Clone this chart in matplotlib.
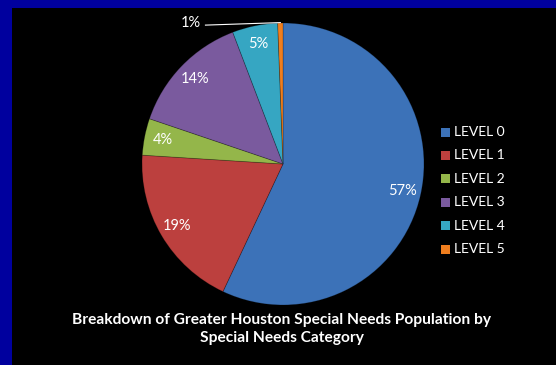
import matplotlib
matplotlib.use("Agg")
import matplotlib.pyplot as plt
import numpy as np
from matplotlib.patches import Rectangle

categories = ["LEVEL 0", "LEVEL 1", "LEVEL 2", "LEVEL 3", "LEVEL 4", "LEVEL 5"]
values = [57.0, 19.0, 4.2, 14.0, 5.2, 0.6]
labels = ["57%", "19%", "4%", "14%", "5%", "1%"]
colors = ["#3C72B8", "#BC403E", "#94B64A", "#7A5A9E", "#36A6C2", "#F07E1E"]
title = "Breakdown of Greater Houston Special Needs Population by\nSpecial Needs Category"

W, H = 556, 365
fig = plt.figure(figsize=(W/100, H/100), dpi=100, facecolor="#00009E")
plt.rcParams['font.family'] = ['Lato', 'DejaVu Sans']

# black panel
bg = fig.add_axes([0, 0, 1, 1])
bg.set_xlim(0, W); bg.set_ylim(H, 0); bg.axis("off")
bg.add_patch(Rectangle((12, 8), W, H, facecolor="black", edgecolor="none"))

cx, cy, r = 283, 164, 141
ax = fig.add_axes([(cx-r)/W, (H-cy-r)/H, 2*r/W, 2*r/H])
wedges, _ = ax.pie(values, colors=colors, startangle=90, counterclock=False,
                   radius=1.0, wedgeprops=dict(edgecolor=(0, 0, 0, 0.25), linewidth=0.6))
ax.set_xlim(-1, 1); ax.set_ylim(-1, 1); ax.axis("off")

for w, lab, v in zip(wedges, labels, values):
    mid = np.deg2rad((w.theta1 + w.theta2) / 2)
    if v < 2:
        x0, y0 = np.cos(mid), np.sin(mid)
        ax.plot([x0, -0.55], [y0 + 0.003, 0.985], color="white", lw=0.8, clip_on=False)
        ax.text(-0.58, 1.0, lab, color="white", fontsize=10.5, ha="right", va="center")
    else:
        d = 0.87
        ax.text(d*np.cos(mid), d*np.sin(mid), lab, color="white", fontsize=10.5,
                ha="center", va="center")

# legend
lx, ly0, dy = 441, 132, 23.4
for i, (c, n) in enumerate(zip(colors, categories)):
    y = ly0 + i*dy
    bg.add_patch(Rectangle((lx, y-4.5), 9, 9, facecolor=c, edgecolor="none"))
    bg.text(lx + 13, y, n, color="white", fontsize=10, va="center", ha="left")

bg.text(282, 329, title, color="white", fontsize=11.2, fontweight="bold",
        ha="center", va="center", linespacing=1.35)

fig.savefig("out.png", dpi=100, facecolor=fig.get_facecolor())
